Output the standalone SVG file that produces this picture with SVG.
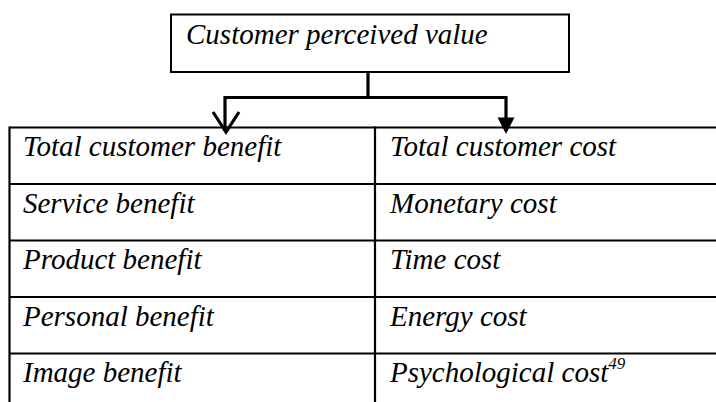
<svg xmlns="http://www.w3.org/2000/svg" width="716" height="402" viewBox="0 0 716 402">
  <style>
    .lbl { font-family: "Liberation Serif", "Times New Roman", serif; font-style: italic; font-size: 29px; fill: #000; }
    .sup { font-family: "Liberation Serif", "Times New Roman", serif; font-style: italic; font-size: 17px; fill: #000; }
    .grid { stroke: #000; stroke-width: 2.2; fill: none; }
    .box { stroke: #000; stroke-width: 2; fill: #fff; }
    .conn { stroke: #000; stroke-width: 3.2; fill: none; }
  </style>
  <rect width="716" height="402" fill="#fff"/>

  <!-- top node -->
  <g id="node-value">
    <rect class="box" x="171" y="14.5" width="398" height="57.5"/>
    <text class="lbl" x="186" y="44">Customer perceived value</text>
  </g>

  <!-- connectors -->
  <g id="connectors">
    <path class="conn" d="M368 72 V97.5 M225 97.5 H506 M225 96 V131 M506 96 V120"/>
    <path class="conn" d="M213 112 L226 132 L239 112" stroke-linejoin="miter"/>
    <polygon points="497.5,117.5 514.5,117.5 506,134" fill="#000"/>
  </g>

  <!-- table grid -->
  <g id="table-grid">
    <path class="grid" d="M9.5 127.5 H716 M9.5 184 H716 M9.5 240.5 H716 M9.5 297 H716 M9.5 353.5 H716"/>
    <path class="grid" d="M9.5 126.5 V402 M375 126.5 V402"/>
  </g>

  <!-- benefit column -->
  <g id="node-total-benefit"><text class="lbl" x="23" y="156">Total customer benefit</text></g>
  <g id="node-service-benefit"><text class="lbl" x="23" y="212.5">Service benefit</text></g>
  <g id="node-product-benefit"><text class="lbl" x="23" y="269">Product benefit</text></g>
  <g id="node-personal-benefit"><text class="lbl" x="23" y="326">Personal benefit</text></g>
  <g id="node-image-benefit"><text class="lbl" x="23" y="382">Image benefit</text></g>

  <!-- cost column -->
  <g id="node-total-cost"><text class="lbl" x="390" y="156">Total customer cost</text></g>
  <g id="node-monetary-cost"><text class="lbl" x="390" y="212.5">Monetary cost</text></g>
  <g id="node-time-cost"><text class="lbl" x="390" y="269">Time cost</text></g>
  <g id="node-energy-cost"><text class="lbl" x="390" y="326">Energy cost</text></g>
  <g id="node-psych-cost"><text class="lbl" x="390" y="382">Psychological cost<tspan class="sup" dy="-13">49</tspan></text></g>
</svg>
